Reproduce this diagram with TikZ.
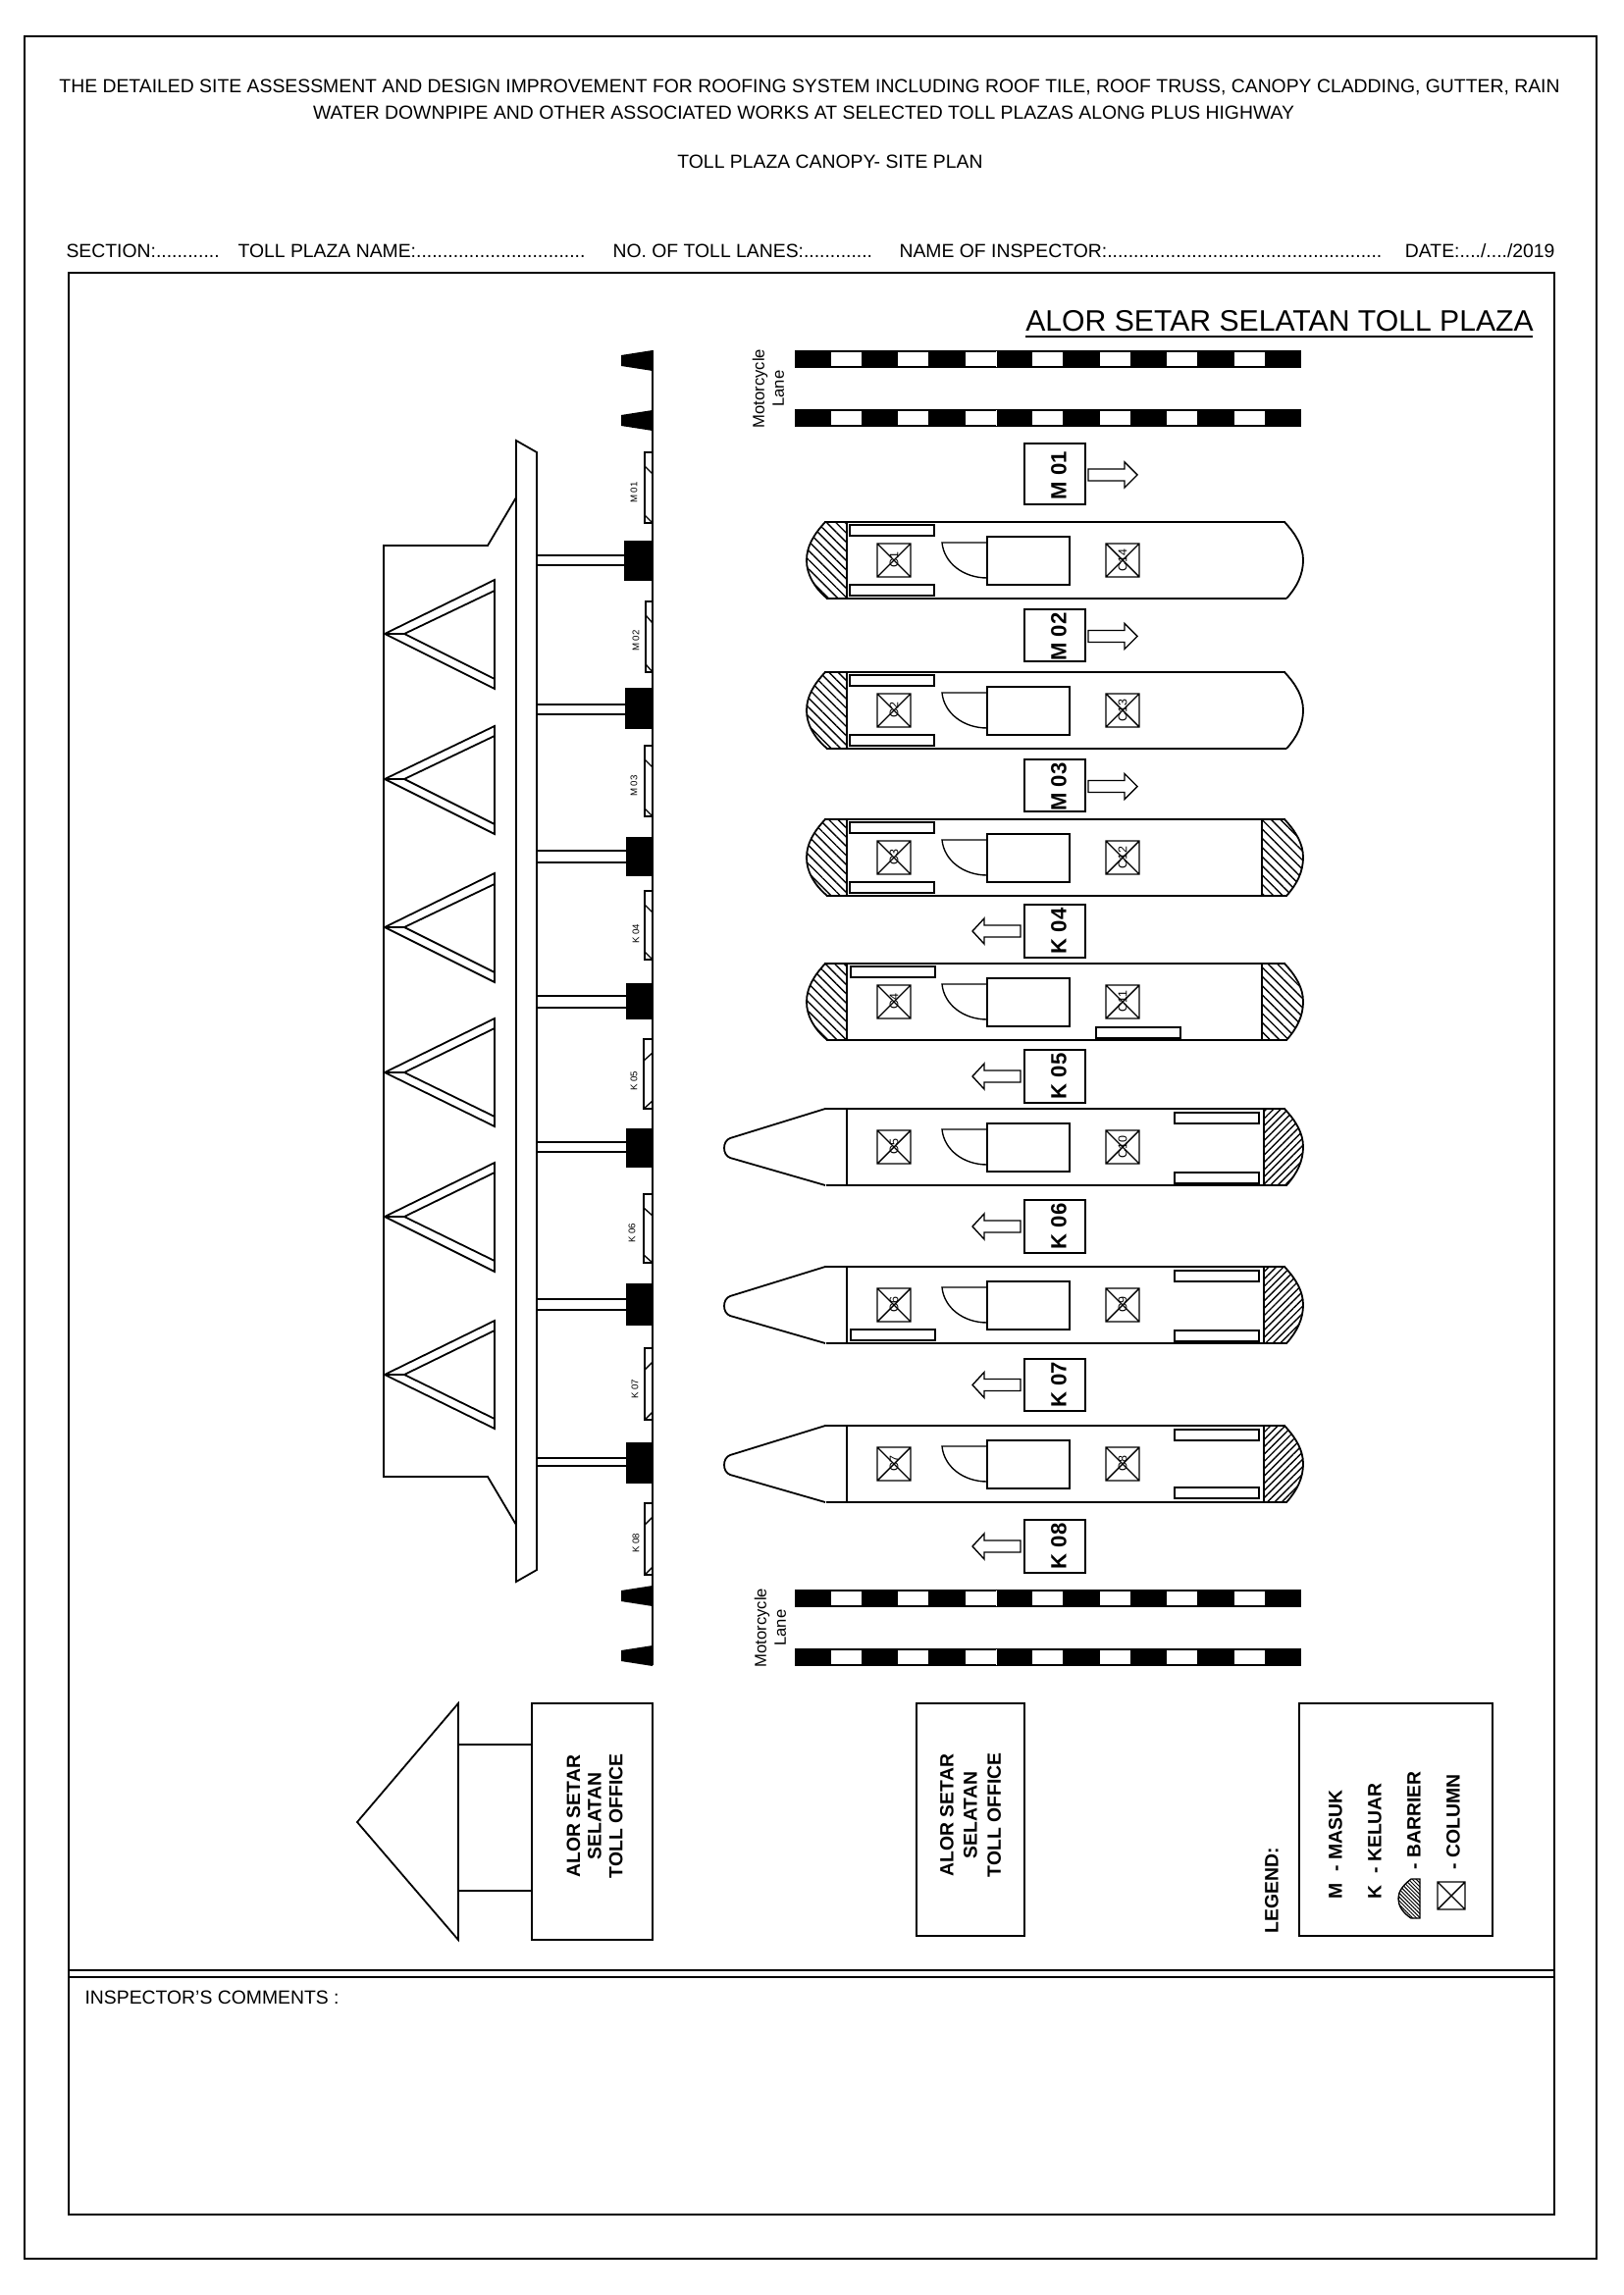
\documentclass[tikz,border=0pt]{standalone}
\usepackage{fontspec}
\setmainfont{Liberation Sans}
\usetikzlibrary{patterns.meta}
\tikzset{
  wall/.style={line width=0.65pt},
  thin wall/.style={line width=0.5pt},
  txt/.style={inner sep=0pt,font=\fontsize{7}{8.4}\selectfont},
  bold txt/.style={inner sep=0pt,align=center,rotate=90,font=\fontsize{7}{7.8}\selectfont\bfseries},
  bold txtb/.style={bold txt,font=\fontsize{7}{8.7}\selectfont\bfseries},
  lane txt/.style={inner sep=0pt,rotate=90,font=\fontsize{8}{9}\selectfont\bfseries},
  tiny txt/.style={inner sep=0pt,rotate=90,font=\fontsize{3.5}{4}\selectfont},
  col txt/.style={inner sep=0pt,rotate=90,font=\fontsize{4.5}{5}\selectfont},
  hatch a/.style={pattern={Lines[angle=-45,distance=2.4pt,line width=0.5pt]}},
  hatch b/.style={pattern={Lines[angle=45,distance=1.9pt,line width=0.5pt]}},
  hatch c/.style={pattern={Lines[angle=-45,distance=1pt,line width=0.35pt]}},
}
\begin{document}
\begin{tikzpicture}[x=0.36135pt,y=-0.36135pt]
\useasboundingbox (0,0) rectangle (1654,2339);
% frames
\draw[thin wall] (25,37) rectangle (1627,2302);
\draw[wall] (70,278) rectangle (1584,2257);
\draw[wall] (70,2008) -- (1584,2008) (70,2015) -- (1584,2015);
% heading
\node[txt,anchor=center] (head1) at (825,88.5) {THE DETAILED SITE ASSESSMENT AND DESIGN IMPROVEMENT FOR ROOFING SYSTEM INCLUDING ROOF TILE, ROOF TRUSS, CANOPY CLADDING, GUTTER, RAIN};
\node[txt,anchor=center] (head2) at (819,115) {WATER DOWNPIPE AND OTHER ASSOCIATED WORKS AT SELECTED TOLL PLAZAS ALONG PLUS HIGHWAY};
\node[txt,anchor=center] (head3) at (846,165) {TOLL PLAZA CANOPY- SITE PLAN};
\node[txt,anchor=west] (section) at (67,256) {SECTION:............};
\node[txt,anchor=west] (plazaname) at (242,256) {TOLL PLAZA NAME:................................};
\node[txt,anchor=west] (lanes) at (624,256) {NO. OF TOLL LANES:.............};
\node[txt,anchor=west] (inspector) at (916,256) {NAME OF INSPECTOR:....................................................};
\node[txt,anchor=east] (date) at (1585,256) {DATE:..../..../2019};
\node[inner sep=0pt,anchor=center,font=\fontsize{10.9}{13}\selectfont] (title) at (1304,327) {ALOR SETAR SELATAN TOLL PLAZA};
\draw[wall] (1045,343) -- (1562,343);
\node[txt,anchor=west] (comments) at (86,2036) {INSPECTOR'S COMMENTS :};
% toll canopy
\draw[wall] (665,357) -- (665,1697);
\draw[wall] (526,449) -- (547,461) -- (547,1600) -- (526,1612) -- cycle;
\draw[wall] (526,507) -- (497,556) -- (391,556) -- (391,1505) -- (497,1505) -- (526,1554);
\foreach \a/\b/\c/\d/\e in {591/602/646/692/702,740/750/794/840/850,890/901/945/991/1001,1038/1048/1093/1138/1148,1185/1195/1240/1285/1296,1346/1356/1401/1446/1456}{
  \draw[wall] (504,\a) -- (392,\c) -- (504,\e) -- cycle;
  \draw[wall] (504,\b) -- (412,\c) -- (504,\d);
  \draw[wall] (392,\c) -- (412,\c);
}
\foreach \t in {357,418,1616,1677}
  \fill (665,\t) -- (665,\t+21) -- (633,\t+16) -- (633,\t+5) -- cycle;
\foreach \a/\b/\c/\d/\x in {551/592/566/576/636,701/743/718/728/637,853/893/867/879/638,1002/1039/1015/1027/638,1150/1190/1164/1174/638,1308/1351/1324/1335/638,1470/1512/1486/1494/638}{
  \fill (\x,\a) rectangle (665,\b);
  \draw[wall] (547,\c) -- (\x,\c) (547,\d) -- (\x,\d);
}
\foreach \x/\a/\b/\lx/\ly/\s/\n in {657/461/533/646/502/1/M 01,658/613/685/648/653/1/M 02,657/760/832/646/801/1/M 03,657/908/978/648/952/1/K 04,656/1059/1130/646/1102/-1/K 05,656/1217/1287/644/1257/1/K 06,657/1374/1447/647/1416/-1/K 07,657/1532/1605/648/1573/-1/K 08}{
  \draw[thin wall] (665,\a) -- (\x,\a) -- (\x,\b) -- (665,\b);
  \draw[thin wall] (\x,\a+18-4*\s) -- (665,\a+18+4*\s);
  \draw[thin wall] (\x,\b-4-4*\s) -- (665,\b-4+4*\s);
  \node[tiny txt] (mark\a) at (\lx,\ly) {\n};
}
% lane stripes
\foreach \t in {357,417,1620,1680}{
  \fill (810,\t) rectangle (1326,\t+18);
  \foreach \i in {0,...,6}
    \filldraw[fill=white,draw=black,line width=0.3pt] (846+68.5*\i,\t+1.5) rectangle (878+68.5*\i,\t+16.5);
  \draw[white,line width=0.2pt] (1015.5,\t+1) -- (1015.5,\t+17);
}
\node[inner sep=0pt,rotate=90,align=center,font=\fontsize{6}{7.2}\selectfont] (moto1) at (783,396) {Motorcycle\\Lane};
\node[inner sep=0pt,rotate=90,align=center,font=\fontsize{6}{7.2}\selectfont] (moto2) at (785,1659) {Motorcycle\\Lane};
% islands
\foreach \t/\cl/\cr in {532/C1/C14,685/C2/C13,835/C3/C12,982/C4/C11,1130/C5/C10,1291/C6/C9,1453/C7/C8}{
  \draw[wall] (840,\t) -- (1310,\t) (842,\t+78) -- (1311,\t+78);
  \draw[wall] (863,\t) -- (863,\t+78);
  \draw[thin wall] (894,\t+22) rectangle (928,\t+56) (894,\t+22) -- (928,\t+56) (894,\t+56) -- (928,\t+22);
  \draw[thin wall] (1127,\t+22) rectangle (1161,\t+56) (1127,\t+22) -- (1161,\t+56) (1127,\t+56) -- (1161,\t+22);
  \node[col txt] (col\cl) at (911,\t+39) {\cl};
  \node[col txt] (col\cr) at (1144,\t+39) {\cr};
  \draw[thin wall] (1006,\t+15) rectangle (1090,\t+64);
  \draw[thin wall] (1006,\t+21) -- (960,\t+21) .. controls (962,\t+42) and (982,\t+57) .. (1006,\t+57);
}
\foreach \t in {532,685,835,982}
  \draw[wall,hatch a] (863,\t) -- (841,\t) .. controls (829,\t+13) and (822,\t+25) .. (822,\t+39) .. controls (822,\t+53) and (829,\t+66) .. (843,\t+78) -- (863,\t+78) -- cycle;
\foreach \t in {1130,1291,1453}
  \draw[wall] (841,\t) -- (744,\t+30) .. controls (736,\t+33) and (736,\t+47) .. (744,\t+50) -- (841,\t+78);
\foreach \t in {532,685}
  \draw[wall] (1309,\t) .. controls (1321,\t+13) and (1328,\t+25) .. (1328,\t+39) .. controls (1328,\t+53) and (1322,\t+66) .. (1311,\t+78);
\foreach \t in {835,982}
  \draw[wall,hatch a] (1286,\t) -- (1309,\t) .. controls (1321,\t+13) and (1328,\t+25) .. (1328,\t+39) .. controls (1328,\t+53) and (1322,\t+66) .. (1311,\t+78) -- (1286,\t+78) -- cycle;
\foreach \t in {1130,1291,1453}
  \draw[wall,hatch b] (1288,\t) -- (1309,\t) .. controls (1321,\t+13) and (1328,\t+25) .. (1328,\t+39) .. controls (1328,\t+53) and (1322,\t+66) .. (1311,\t+78) -- (1288,\t+78) -- cycle;
% barrier arms
\foreach \x/\y in {866/535,866/596,866/688,866/749,866/838,866/899,867/985,1117/1047,1197/1134,1197/1195,1197/1295,1197/1356,867/1355,1197/1457,1197/1516}
  \draw[thin wall] (\x,\y) rectangle (\x+86,\y+11);
% lane boxes
\foreach \a/\b/\n in {452/514/M 01,621/674/M 02,774/827/M 03}{
  \draw[wall] (1044,\a) rectangle (1106,\b);
  \node[lane txt] (lane\a) at (1079,{(\a+\b)/2+1.5}) {\n};
  \draw[thin wall] (1109,{(\a+\b)/2-5}) -- (1146,{(\a+\b)/2-5}) -- (1146,{(\a+\b)/2-12}) -- (1159,{(\a+\b)/2+1}) -- (1146,{(\a+\b)/2+14}) -- (1146,{(\a+\b)/2+7}) -- (1109,{(\a+\b)/2+7}) -- cycle;
}
\foreach \a/\b/\n in {922/976/K 04,1070/1124/K 05,1223/1277/K 06,1385/1438/K 07,1549/1603/K 08}{
  \draw[wall] (1044,\a) rectangle (1106,\b);
  \node[lane txt] (lane\a) at (1079,{(\a+\b)/2}) {\n};
  \draw[thin wall] (1040,{(\a+\b)/2-6}) -- (1003,{(\a+\b)/2-6}) -- (1003,{(\a+\b)/2-13}) -- (991,{(\a+\b)/2}) -- (1003,{(\a+\b)/2+13}) -- (1003,{(\a+\b)/2+6}) -- (1040,{(\a+\b)/2+6}) -- cycle;
}
% office
\draw[wall] (364,1857) -- (467,1736) -- (467,1977) -- cycle;
\draw[wall] (467,1778) -- (542,1778) (467,1927) -- (542,1927);
\draw[wall] (542,1736) rectangle (665,1977);
\node[bold txt] (office1) at (606,1851) {ALOR SETAR\\SELATAN\\TOLL OFFICE};
\draw[wall] (934,1736) rectangle (1044,1973);
\node[bold txtb] (office2) at (989,1850) {ALOR SETAR\\SELATAN\\TOLL OFFICE};
% legend
\draw[wall] (1324,1736) rectangle (1521,1973);
\node[bold txt,anchor=west] (legend) at (1296,1971) {LEGEND:};
\node[bold txt,anchor=west] (masuk) at (1361,1936) {M\,\, - MASUK};
\node[bold txt,anchor=west] (keluar) at (1401,1936) {K\,\, - KELUAR};
\node[bold txt,anchor=west] (barrier) at (1441,1906) {- BARRIER};
\node[bold txt,anchor=west] (column) at (1481,1906) {- COLUMN};
\draw[thin wall,hatch c] (1447,1915) -- (1438,1915) .. controls (1429,1922) and (1425,1928) .. (1425,1935) .. controls (1425,1942) and (1429,1949) .. (1438,1955) -- (1447,1955) -- cycle;
\draw[thin wall] (1465,1918) rectangle (1493,1946) (1465,1918) -- (1493,1946) (1465,1946) -- (1493,1918);
\end{tikzpicture}
\end{document}
